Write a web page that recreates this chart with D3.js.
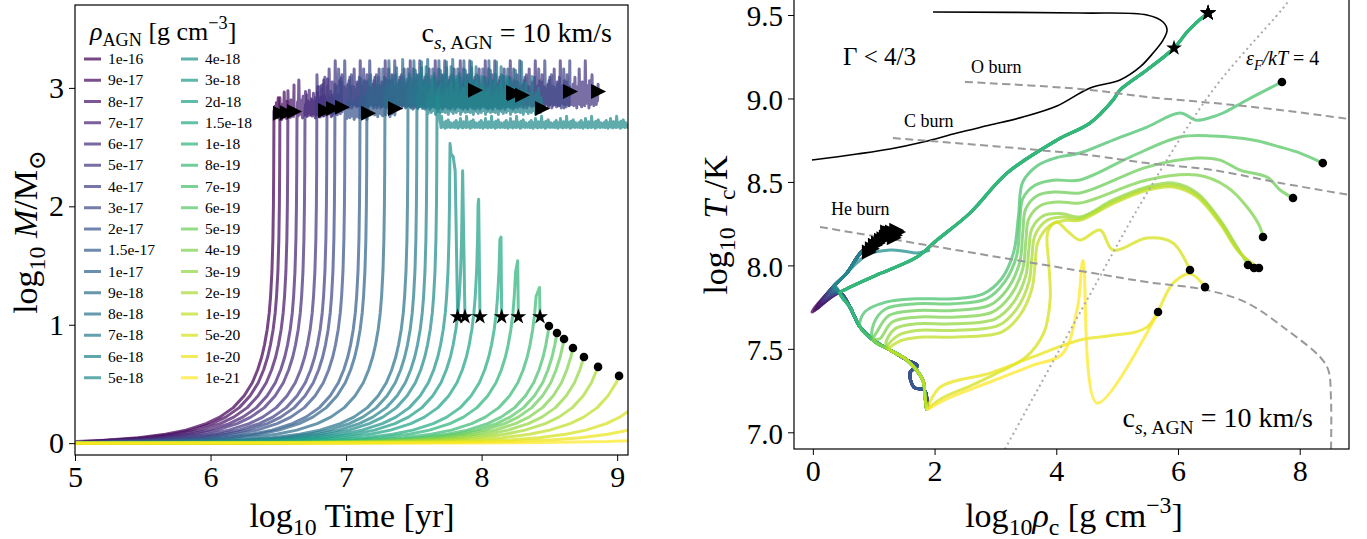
<!DOCTYPE html>
<html><head><meta charset="utf-8">
<script src="https://cdn.jsdelivr.net/npm/d3@7/dist/d3.min.js"></script>
<style>
html,body{margin:0;padding:0;background:#fff;}
svg text{font-family:"Liberation Serif","DejaVu Serif",serif;fill:#000;}
</style></head><body>
<svg id="fig" width="1367" height="539"></svg>
<script>
// ---------------- DATA ----------------
const densityLabels = ["1e-16","9e-17","8e-17","7e-17","6e-17","5e-17","4e-17","3e-17","2e-17","1.5e-17","1e-17","9e-18","8e-18","7e-18","6e-18","5e-18",
  "4e-18","3e-18","2d-18","1.5e-18","1e-18","8e-19","7e-19","6e-19","5e-19","4e-19","3e-19","2e-19","1e-19","5e-20","1e-20","1e-21"];
const xTicksL = [5,6,7,8,9];
const yTicksL = [0,1,2,3];
const xTicksR = [0,2,4,6,8];
const yTicksR = [7.0,7.5,8.0,8.5,9.0,9.5];

// shared runaway-growth shape: [log t - log t_rise, log M]
const growthShape = [[-6,0],[-2.5,0.002],[-2,0.005],[-1.5,0.014],[-1.2,0.028],[-1,0.046],[-0.8,0.075],[-0.65,0.11],[-0.5,0.165],
  [-0.4,0.22],[-0.3,0.3],[-0.22,0.4],[-0.16,0.51],[-0.12,0.62],[-0.09,0.73],[-0.07,0.83],[-0.05,0.96],[-0.035,1.1],[-0.025,1.24],
  [-0.015,1.45],[-0.008,1.72],[-0.004,2.02],[-0.002,2.32],[0,2.85]];
// log10 time of runaway for each run
const riseTimes = [6.468,6.512,6.571,6.638,6.697,6.785,6.859,6.918,6.992,7.103,7.154,7.287,7.457,7.523,7.597,7.671,
  7.767,7.86,7.978,8.143,8.266,8.427, 8.544,8.61,8.67,8.749,8.845,8.97,9.153, 9.42,9.73,10.43];
const runKind = ["tri","tri","tri","tri","tri","tri","tri","tri","tri","tri","tri","tri","tri","tri","tri","flat",
  "star","star","star","star","star","star","dot","dot","dot","dot","dot","dot","dot","open","open","open"];
const endTimes = [6.512,6.564,6.616,6.845,6.904,8.859,6.97,8.652,7.162,7.361,8.232,7.951,8.298,8.24,8.446,9.08,
  7.823,7.877,7.988,8.148,8.271,8.431, 8.497,8.556,8.608,8.674,8.755,8.859,9.014, null,null,null];
const endMass = [2.785,2.79,2.80,2.81,2.827,2.97,2.836,2.97,2.785,2.827,2.962,2.98,2.937,2.95,2.827,2.68,
  1.067,1.067,1.067,1.067,1.067,1.067, 0.989,0.930,0.879,0.804,0.728,0.644,0.568, null,null,null];
const plateauLevel = [2.79,2.79,2.8,2.81,2.82,2.91,2.83,2.91,2.79,2.82,2.91,2.92,2.9,2.89,2.84,2.68];
const plateauNoise = [0.7,0.7,0.7,0.8,0.8,1.0,0.8,1.0,0.7,0.8,1.0,1.0,1.0,0.9,0.8,0.25];
const plateauJitter = [0.02,-0.05,0.08,-0.02,0.12,-0.06,0.03,0.18,-0.04,0.06,-0.08,0.1,0.01,-0.03,0.25,-0.05,0.07,0.0,-0.07,0.14,
  0.04,-0.02,0.09,-0.06,0.32,0.02,-0.04,0.11,-0.01,0.05,-0.08,0.15,0.03,-0.05,0.08,0.2,-0.03,0.06,-0.06,0.1,0.0];
const peakMass = {16:2.53,17:2.30,18:2.06,19:1.74,20:1.54,21:1.315};
const spikeTail = {16:[[7.775,2.44],[7.79,2.42],[7.805,2.3]],17:[],18:[],19:[],20:[],21:[]};
const flatSpike = [[7.676,2.92],[7.69,2.75],[7.70,2.68]];

// right panel: log rho_c, log T_c
const gammaLine = [[-0.015,8.631],[0.725,8.667],[1.267,8.697],[1.81,8.739],[2.368,8.793],[2.91,8.841],[3.452,8.889],[4.01,8.955],
  [4.555,9.063],[5.048,9.111],[5.377,9.189],[5.59,9.272],[5.754,9.35],[5.82,9.41],[5.754,9.458],[5.49,9.5],[4.39,9.512],[1.974,9.518]];
const heBurn = [[0.117,8.23],[4.505,7.96],[5.491,7.9],[6.477,7.852],[7.134,7.775],[7.792,7.613],[8.334,7.451],[8.47,7.373],[8.514,7.2],[8.514,6.88]];
const cBurn = [[1.316,8.763],[4.39,8.667],[5.491,8.613],[6.576,8.571],[7.677,8.494],[8.85,8.42]];
const oBurn = [[2.499,9.099],[4.39,9.057],[5.491,9.009],[6.576,8.973],[7.677,8.931],[8.85,8.875]];
const degenLine = [[3.157,6.9],[4.505,7.793],[5.491,8.434],[6.576,9.051],[7.792,9.572],[7.83,9.6]];

const msPath = [[1.87,7.134],[1.84,7.22],[1.81,7.31],[1.545,7.433],[1.267,7.493],[0.988,7.553],[0.774,7.631],[0.61,7.75],[0.445,7.835]];
const msHook = [[1.87,7.134],[1.84,7.25],[1.66,7.27],[1.6,7.36],[1.72,7.4],[1.545,7.433],[1.267,7.493],[0.988,7.553],[0.774,7.631],[0.61,7.75],[0.445,7.835]];
const heLeg = [[0.33,7.87],[0.56,7.955],[0.822,8.09]];
const triTail = [[-0.015,7.721],[0.02,7.73],[0.06,7.74],[0.1,7.76],[0.14,7.78],[0.17,7.79],[0.2,7.8],[0.23,7.82],[0.26,7.83],[0.28,7.84],
  [0.3,7.85],[0.32,7.86],[0.34,7.865],[0.36,7.87],[0.38,7.87]];
const triEnd = [[0.92,8.08],[0.97,8.1],[1.02,8.12],[1.07,8.134],[1.12,8.15],[1.16,8.16],[1.2,8.17],[1.24,8.185],[1.27,8.194],[1.3,8.2],
  [1.35,8.18],[1.4,8.2],[1.33,8.165],[1.22,8.2],[1.37,8.21]];
const heTrack = [[0.36,7.87],[0.56,7.955],[0.888,8.062],[1.267,8.092],[1.5,8.085],[1.711,8.074],[1.924,8.092]];
const diagPath = [[0.56,7.86],[1.1,7.95],[1.711,8.05],[2.04,8.152],[2.582,8.314],[3.19,8.553],[4.012,8.751],[4.555,8.853],[4.933,8.991],
  [5.048,9.051],[5.491,9.171],[5.935,9.302]];
const diagTop = [[6.149,9.398],[6.313,9.458],[6.494,9.512]];
// where each loop run leaves the main-sequence path (number of msPath points kept)
const loopBranch = {22:7,23:6,24:6,25:6,26:5,27:5,28:5};
const loopTracks = {
  22:[[0.85,7.72],[1.2,7.78],[1.7,7.8],[2.3,7.8],[2.8,7.83],[3.1,7.92],[3.3,8.08],[3.38,8.3],[3.45,8.5],[3.7,8.6],[4.0,8.645],[4.39,8.673],[4.933,8.751],[5.491,8.829],[6.034,8.913],[6.3,8.87],[6.56,8.889],[6.741,8.913],[7.135,8.991],[7.708,9.099]],
  23:[[1.0,7.65],[1.2,7.74],[1.7,7.77],[2.3,7.77],[2.85,7.8],[3.15,7.9],[3.35,8.06],[3.4,8.25],[3.45,8.4],[3.65,8.48],[3.95,8.51],[4.39,8.512],[5.212,8.649],[6.034,8.769],[6.576,8.775],[7.233,8.751],[7.677,8.709],[8.005,8.673],[8.379,8.613]],
  24:[[1.05,7.6],[1.25,7.7],[1.7,7.73],[2.3,7.73],[2.9,7.76],[3.2,7.86],[3.4,8.02],[3.45,8.2],[3.5,8.34],[3.7,8.42],[4.0,8.44],[4.39,8.434],[5.491,8.589],[6.313,8.643],[6.691,8.631],[7.02,8.571],[7.464,8.529],[7.677,8.452],[7.89,8.404]],
  25:[[1.1,7.56],[1.3,7.66],[1.7,7.69],[2.3,7.69],[2.95,7.72],[3.25,7.82],[3.45,7.98],[3.5,8.15],[3.55,8.28],[3.75,8.36],[4.05,8.38],[4.39,8.374],[5.491,8.512],[6.313,8.541],[6.806,8.47],[7.135,8.35],[7.348,8.23],[7.397,8.17]],
  26:[[1.2,7.53],[1.35,7.62],[1.7,7.65],[2.3,7.65],[3.0,7.68],[3.3,7.78],[3.5,7.94],[3.55,8.1],[3.6,8.22],[3.8,8.3],[4.1,8.31],[4.39,8.29],[4.933,8.392],[5.491,8.47],[5.918,8.494],[6.313,8.434],[6.691,8.272],[6.97,8.11],[7.15,8.002]],
  27:[[1.22,7.51],[1.4,7.58],[1.7,7.61],[2.3,7.61],[3.05,7.64],[3.35,7.74],[3.55,7.9],[3.6,8.05],[3.65,8.18],[3.85,8.27],[4.1,8.29],[4.39,8.28],[4.933,8.38],[5.491,8.46],[5.918,8.48],[6.313,8.42],[6.691,8.26],[6.97,8.1],[7.25,7.984]],
  28:[[1.25,7.5],[1.45,7.55],[1.75,7.57],[2.3,7.57],[3.1,7.6],[3.4,7.7],[3.6,7.86],[3.65,8.0],[3.7,8.14],[3.9,8.24],[4.15,8.27],[4.39,8.27],[4.933,8.37],[5.491,8.45],[5.918,8.47],[6.313,8.41],[6.691,8.25],[7.0,8.08],[7.33,7.984]]
};
const yellowTracks = {
  29:[[2.1,7.2],[2.6,7.28],[3.0,7.35],[3.5,7.45],[3.8,7.6],[3.9,7.8],[3.88,8.0],[3.86,8.2],[4.0,8.26],[4.2,8.2],[4.39,8.152],[4.719,8.212],[4.933,8.092],[5.491,8.164],[5.918,8.134],[6.197,7.972]],
  30:[[2.09,7.27],[2.91,7.355],[3.6,7.45],[4.39,7.553],[4.9,7.58],[5.49,7.63],[5.92,7.894],[6.2,7.95],[6.444,7.87]],
  31:[[2.2,7.2],[2.9,7.3],[3.6,7.4],[4.1,7.47],[4.35,7.75],[4.44,8.03],[4.669,7.175],[5.672,7.721]]
};

// ---------------- DRAW ----------------
const svg = d3.select('#fig');
const nRuns = densityLabels.length;
const color = i => d3.interpolateViridis(i/(nRuns-1));

function rich(sel, parts, fs){
  let shift = 0;
  parts.forEach(p=>{
    const target = p.sub ? 0.24*fs : (p.sup ? -0.42*fs : 0);
    const ts = sel.append('tspan').text(p.t).attr('dy', (target-shift).toFixed(2));
    if(p.sub||p.sup) ts.attr('font-size', (fs*0.7).toFixed(1));
    if(p.it) ts.attr('font-style','italic');
    shift = target;
  });
}
const triPath = 'M8,0L-7,-7.5L-7,7.5Z';
function drawMarker(g, type, x, y){
  if(type==='tri') g.append('path').attr('d',triPath).attr('transform',`translate(${x},${y})`).attr('fill','#000');
  else if(type==='star') g.append('path').attr('d',d3.symbol(d3.symbolStar,78)()).attr('transform',`translate(${x},${y})`).attr('fill','#000');
  else if(type==='dot') g.append('circle').attr('cx',x).attr('cy',y).attr('r',4.3).attr('fill','#000');
}
function styleAxis(g, fs){
  g.selectAll('text').attr('font-size',fs).attr('font-family','"Liberation Serif",serif').attr('fill','#000');
  g.selectAll('line').attr('stroke','#000').attr('stroke-width',1);
  g.select('.domain').remove();
}

// ===== LEFT PANEL =====
const L = {x0:75,x1:628,y0:5,y1:455};
const xL = d3.scaleLinear().domain([5,9.08]).range([L.x0,L.x1]);
const yL = d3.scaleLinear().domain([-0.1,3.7]).range([L.y1,L.y0]);
svg.append('clipPath').attr('id','clipL').append('rect').attr('x',L.x0).attr('y',L.y0).attr('width',L.x1-L.x0).attr('height',L.y1-L.y0);
const lineL = d3.line().x(d=>xL(d[0])).y(d=>yL(d[1]));
const gLc = svg.append('g').attr('clip-path','url(#clipL)');
const gLm = svg.append('g');

function growth(i, maxX, maxY){
  const pts=[[5,0]];
  for(const [dx,m] of growthShape){
    const x = riseTimes[i]+dx;
    if(x>5.001 && x<maxX && m<maxY) pts.push([x,m]);
  }
  return pts;
}
const plateauStep = 0.0045;
function plateau(i, start, stop, level){
  const pts=[];
  const n = Math.round((stop-start)/plateauStep);
  for(let k=0;k<=n;k++) pts.push([start+k*plateauStep, level + plateauNoise[i]*plateauJitter[(k+i*7)%plateauJitter.length]]);
  return pts;
}
const runPts = [];
for(let i=0;i<nRuns;i++){
  const kind = runKind[i];
  let pts;
  if(kind==='tri'){
    pts = growth(i, riseTimes[i], 2.85).concat(plateau(i, riseTimes[i], endTimes[i], plateauLevel[i]));
    pts.push([endTimes[i], endMass[i]]);
  } else if(kind==='flat'){
    pts = growth(i, riseTimes[i], 2.85).concat([[riseTimes[i],2.85]], flatSpike, plateau(i, 7.70, endTimes[i], plateauLevel[i]));
  } else if(kind==='star'){
    pts = growth(i, riseTimes[i], peakMass[i]).concat([[riseTimes[i],peakMass[i]]], spikeTail[i], [[endTimes[i], endMass[i]]]);
  } else if(kind==='dot'){
    pts = growth(i, endTimes[i], 9).concat([[endTimes[i], endMass[i]]]);
  } else {
    pts = growth(i, 99, 99);
  }
  runPts.push(pts);
}
runPts.forEach((pts,i)=>{
  gLc.append('path').attr('d',lineL(pts)).attr('fill','none').attr('stroke',color(i))
    .attr('stroke-opacity',0.72).attr('stroke-width',3).attr('stroke-linejoin','round');
});
runPts.forEach((pts,i)=>{
  const k = runKind[i];
  if(k==='tri'||k==='star'||k==='dot') drawMarker(gLm,k,xL(endTimes[i]),yL(endMass[i]));
});
// frame + axes
svg.append('rect').attr('x',L.x0).attr('y',L.y0).attr('width',L.x1-L.x0).attr('height',L.y1-L.y0).attr('fill','none').attr('stroke','#000').attr('stroke-width',1.2);
const axLx = svg.append('g').attr('transform',`translate(0,${L.y1})`).call(d3.axisBottom(xL).tickValues(xTicksL).tickFormat(d3.format('d')).tickSize(6).tickPadding(5));
styleAxis(axLx,30);
const axLy = svg.append('g').attr('transform',`translate(${L.x0},0)`).call(d3.axisLeft(yL).tickValues(yTicksL).tickFormat(d3.format('d')).tickSize(6).tickPadding(5));
styleAxis(axLy,30);
rich(svg.append('text').attr('x',352).attr('y',527).attr('text-anchor','middle').attr('font-size',34),
  [{t:'log'},{t:'10',sub:true},{t:' Time [yr]'}],34);
rich(svg.append('text').attr('transform','translate(37,232) rotate(-90)').attr('text-anchor','middle').attr('font-size',34),
  [{t:'log'},{t:'10',sub:true},{t:' M',it:true},{t:'/M'},{t:'⊙',sub:true}],34);
rich(svg.append('text').attr('x',612).attr('y',42).attr('text-anchor','end').attr('font-size',28),
  [{t:'c'},{t:'s',sub:true,it:true},{t:', AGN',sub:true},{t:' = 10 km/s'}],28);
// legend
const legG = svg.append('g');
rich(legG.append('text').attr('x',90).attr('y',40).attr('font-size',26),
  [{t:'ρ',it:true},{t:'AGN',sub:true},{t:' [g cm'},{t:'−3',sup:true},{t:']'}],26);
densityLabels.forEach((lab,i)=>{
  const col = Math.floor(i/16), row = i%16;
  const lx = col===0 ? 84 : 181, ly = 59 + row*21.25;
  legG.append('line').attr('x1',lx).attr('x2',lx+17).attr('y1',ly).attr('y2',ly).attr('stroke',color(i)).attr('stroke-opacity',0.72).attr('stroke-width',3);
  legG.append('text').attr('x',lx+24).attr('y',ly+5).attr('font-size',15.5).text(lab);
});

// ===== RIGHT PANEL =====
const R = {x0:794,x1:1349,y0:0,y1:449};
const xR = d3.scaleLinear().domain([-0.31,8.81]).range([R.x0,R.x1]);
const yR = d3.scaleLinear().domain([6.9,9.59]).range([R.y1,R.y0]);
svg.append('clipPath').attr('id','clipR').append('rect').attr('x',R.x0).attr('y',R.y0-2).attr('width',R.x1-R.x0).attr('height',R.y1-R.y0+2);
const gRc = svg.append('g').attr('clip-path','url(#clipR)');
const gRm = svg.append('g');
const smoothR = d3.line().x(d=>xR(d[0])).y(d=>yR(d[1])).curve(d3.curveCatmullRom.alpha(0.5));

gRc.append('path').attr('d',smoothR(gammaLine)).attr('fill','none').attr('stroke','#000').attr('stroke-width',1.6);

const tracks = [];
for(let i=0;i<=14;i++) tracks.push({s:i, pts:[...(i<10?msHook:msPath), triTail[i], ...heLeg, triEnd[i]], end:'tri'});
tracks.push({s:15, pts:[...msPath, ...heTrack], end:null});
for(let i=16;i<=21;i++) tracks.push({s:i, pts:[...msPath, ...diagPath, ...(i===19?[]:diagTop)], end:'star'});
for(let i=22;i<=28;i++) tracks.push({s:i, pts:[...msPath.slice(0,loopBranch[i]), ...loopTracks[i]], end:'dot'});
for(let i=29;i<=31;i++) tracks.push({s:i, pts:[msPath[0], ...yellowTracks[i]], end:'dot'});

tracks.forEach(t=>{
  gRc.append('path').attr('d',smoothR(t.pts)).attr('fill','none').attr('stroke',color(t.s)).attr('stroke-opacity',0.75)
    .attr('stroke-width',3).attr('stroke-linejoin','round');
});
[heBurn,cBurn,oBurn].forEach(d=>{
  gRc.append('path').attr('d',smoothR(d)).attr('fill','none').attr('stroke','#999').attr('stroke-width',2).attr('stroke-dasharray','8,4.5');
});
gRc.append('path').attr('d',smoothR(degenLine)).attr('fill','none').attr('stroke','#aaa').attr('stroke-width',2).attr('stroke-dasharray','2,3.5');
tracks.forEach(t=>{
  if(!t.end) return;
  const p = t.pts[t.pts.length-1];
  drawMarker(gRm, t.end, xR(p[0]), yR(p[1]));
});

svg.append('rect').attr('x',R.x0).attr('y',R.y0-1).attr('width',R.x1-R.x0).attr('height',R.y1-R.y0+1).attr('fill','none').attr('stroke','#000').attr('stroke-width',1.2);
const axRx = svg.append('g').attr('transform',`translate(0,${R.y1})`).call(d3.axisBottom(xR).tickValues(xTicksR).tickFormat(d3.format('d')).tickSize(6).tickPadding(5));
styleAxis(axRx,30);
const axRy = svg.append('g').attr('transform',`translate(${R.x0},0)`).call(d3.axisLeft(yR).tickValues(yTicksR).tickFormat(d3.format('.1f')).tickSize(6).tickPadding(5));
styleAxis(axRy,29);
axRy.selectAll('text').attr('dy','0.37em');
rich(svg.append('text').attr('x',1074).attr('y',527).attr('text-anchor','middle').attr('font-size',34),
  [{t:'log'},{t:'10',sub:true},{t:'ρ',it:true},{t:'c',sub:true},{t:' [g cm'},{t:'−3',sup:true},{t:']'}],34);
rich(svg.append('text').attr('transform','translate(727,225) rotate(-90)').attr('text-anchor','middle').attr('font-size',34),
  [{t:'log'},{t:'10',sub:true},{t:' T',it:true},{t:'c',sub:true},{t:'/K'}],34);
rich(svg.append('text').attr('x',1313).attr('y',427).attr('text-anchor','end').attr('font-size',28),
  [{t:'c'},{t:'s',sub:true,it:true},{t:', AGN',sub:true},{t:' = 10 km/s'}],28);
svg.append('text').attr('x',843).attr('y',65).attr('font-size',25).text('Γ < 4/3');
svg.append('text').attr('x',971).attr('y',73).attr('font-size',18).text('O burn');
svg.append('text').attr('x',904).attr('y',127).attr('font-size',18).text('C burn');
svg.append('text').attr('x',831).attr('y',215).attr('font-size',18).text('He burn');
rich(svg.append('text').attr('x',1246).attr('y',65).attr('font-size',20),
  [{t:'ε',it:true},{t:'F',sub:true,it:true},{t:'/kT',it:true},{t:' = 4'}],20);
</script>
</body></html>
